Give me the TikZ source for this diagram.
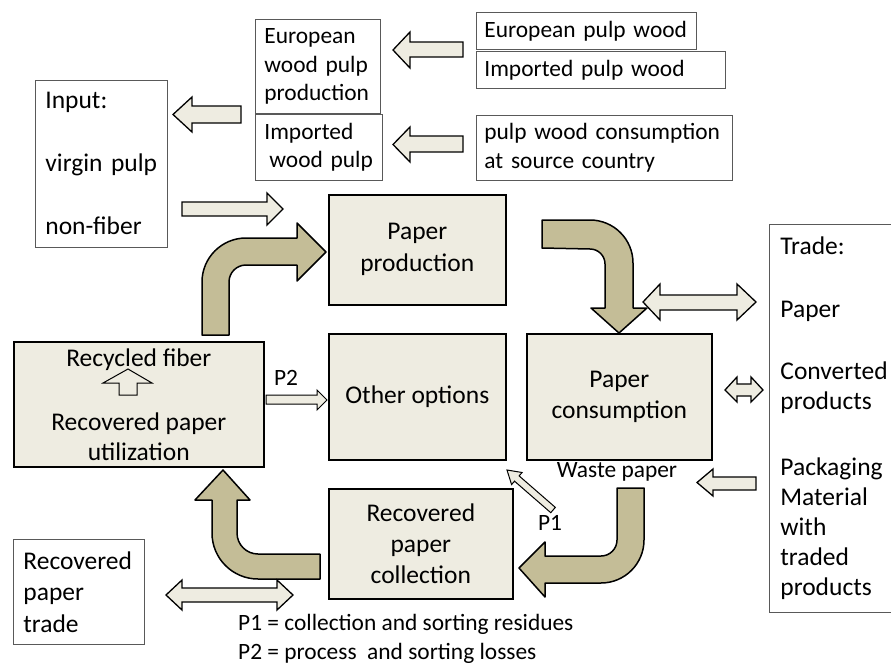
\documentclass[tikz,border=0pt]{standalone}
\usepackage{fontspec}
\setmainfont{Carlito}

\definecolor{paperlight}{HTML}{EEECE1}
\definecolor{paperdark}{HTML}{C4BD97}

\tikzset{
  bigfont/.style={font=\fontsize{25.5}{30}\selectfont},
  smallfont/.style={font=\fontsize{23.4}{28.5}\selectfont},
  whitebox/.style={draw=black!65, line width=0.8pt, fill=white, anchor=north west,
    inner xsep=10pt, inner ysep=0pt, align=left},
  greybox/.style={draw=black, line width=1.6pt, fill=paperlight, anchor=north west,
    inner sep=0pt, align=center, bigfont},
  lightarrow/.style={draw=black, line width=1.3pt, fill=paperlight},
  bentarrow/.style={draw=black, line width=1.5pt, fill=paperdark, line join=round},
}

\begin{document}
\begin{tikzpicture}[x=1pt, y=-1pt]
      \useasboundingbox (0,0) rectangle (891,664);
      \clip (0,0) rectangle (891,664);
      % \draw[step=50,gray,very thin] (0,0) grid (891,664);

      % sources
      \node[whitebox, bigfont, text width=112pt, minimum width=132pt, minimum height=167pt]
        (input) at (35,80) {Input:\\[33pt]virgin pulp\\[33pt]non-fiber};
      \node[whitebox, smallfont, inner xsep=9pt, text width=107pt, minimum width=125pt, minimum height=94pt]
        (eupulp) at (255,19) {European\\wood pulp\\production};
      \node[whitebox, smallfont, inner xsep=9pt, text width=109pt, minimum width=127pt, minimum height=66pt]
        (impulp) at (255,114) {Imported\\\hspace*{5pt}wood pulp};
      \node[whitebox, smallfont, inner xsep=8pt, text width=204pt, minimum width=220pt, minimum height=37pt]
        (euwood) at (476,12) {European pulp wood};
      \node[whitebox, smallfont, inner xsep=8pt, text width=233pt, minimum width=249pt, minimum height=37pt]
        (imwood) at (476,51) {Imported pulp wood};
      \node[whitebox, smallfont, inner xsep=8pt, text width=240pt, minimum width=256pt, minimum height=65pt]
        (srcwood) at (476,115) {pulp wood consumption\\at source country};

      % trade
      \node[whitebox, bigfont, inner xsep=11pt, text width=118pt, minimum width=140pt, minimum height=388pt]
        (trade) at (769,224) {Trade:\\[33pt]Paper\\[32pt]Converted\\products\\[36pt]Packaging\\Material\\with\\traded\\products};
      \node[whitebox, font=\fontsize{25.5}{31.5}\selectfont, text width=111pt, minimum width=131pt, minimum height=105pt]
        (rptrade) at (13,539) {Recovered\\paper\\trade};

      % cycle
      \node[greybox, font=\fontsize{25.5}{32}\selectfont, minimum width=177pt, minimum height=110pt]
        (prod) at (328,194) {Paper\\production};
      \node[greybox, minimum width=177pt, minimum height=126pt] (other) at (328,333) {Other options};
      \node[greybox, font=\fontsize{25.5}{31}\selectfont, minimum width=185pt, minimum height=126pt]
        (cons) at (526,333) {Paper\\consumption};
      \node[greybox, font=\fontsize{25.5}{31}\selectfont, minimum width=184pt, minimum height=110pt]
        (coll) at (328,488) {Recovered\\paper\\collection};
      \node[greybox, minimum width=250pt, minimum height=125pt]
        (util) at (13,341) {Recycled fiber\\[34pt]Recovered paper\\utilization};

      \node[smallfont, inner sep=0pt] (ptwo) at (286,378) {P2};
      \node[smallfont, inner sep=0pt] (pone) at (550,523) {P1};
      \node[smallfont, inner sep=0pt] (waste) at (617,472) {Waste paper};
      \node[font=\fontsize{23.4}{29}\selectfont, inner sep=0pt, anchor=west, align=left]
        (legend) at (238,639) {P1 = collection and sorting residues\\P2 = process\ \ and sorting losses};

      % bent arrows
      \draw[bentarrow] (202,335) -- (202,282) arc[start angle=180, end angle=90, radius=44pt]
        -- (297,238) -- (297,223) -- (326,252) -- (297,281) -- (297,265) -- (246,265)
        arc[start angle=90, end angle=180, radius=17pt] -- (229,335) -- cycle;
      \draw[bentarrow] (542,220) -- (590,220) arc[start angle=90, end angle=0, radius=43pt]
        -- (633,308) -- (647,308) -- (619,333) -- (591,308) -- (605,308) -- (605,264)
        arc[start angle=0, end angle=90, radius=15pt] -- (542,248) -- cycle;
      \draw[bentarrow] (617,488) -- (644,488) -- (644,540) arc[start angle=0, end angle=-90, radius=43pt]
        -- (545,583) -- (545,597) -- (519,568) -- (545,542) -- (545,556) -- (601,556)
        arc[start angle=-90, end angle=0, radius=16pt] -- (617,488) -- cycle;
      \draw[bentarrow] (320,554) -- (258,554) arc[start angle=-90, end angle=-180, radius=21pt]
        -- (237,500) -- (250,500) -- (223,470) -- (195,500) -- (212,500) -- (212,533)
        arc[start angle=180, end angle=270, radius=46pt] -- (320,579) -- cycle;

      % block arrows
      \draw[lightarrow] (241,106) -- (192,106) -- (192,97) -- (173,114.5) -- (192,132) -- (192,123) -- (241,123) -- cycle;
      \draw[lightarrow] (463,42) -- (410,42) -- (410,32) -- (393,50) -- (410,68) -- (410,57) -- (463,57) -- cycle;
      \draw[lightarrow] (463,136) -- (410,136) -- (410,127) -- (393,144.5) -- (410,162) -- (410,152) -- (463,152) -- cycle;
      \draw[lightarrow] (182,202) -- (267,202) -- (267,193) -- (283,209) -- (267,225) -- (267,216) -- (182,216) -- cycle;
      \draw[lightarrow] (660,295) -- (737,295) -- (737,284) -- (756,302) -- (737,320) -- (737,310)
        -- (660,310) -- (660,320) -- (643,302) -- (660,284) -- cycle;
      \draw[lightarrow] (737,384) -- (751,384) -- (751,377) -- (763,390) -- (751,402) -- (751,396)
        -- (737,396) -- (737,402) -- (725,390) -- (737,377) -- cycle;
      \draw[lightarrow] (756,477) -- (713,477) -- (713,469) -- (697,482.5) -- (713,496) -- (713,490) -- (756,490) -- cycle;
      \draw[lightarrow, line width=1pt] (266,395) -- (317,395) -- (317,390) -- (327,400) -- (317,410) -- (317,404) -- (266,404) -- cycle;
      \draw[lightarrow] (182,588) -- (277,588) -- (277,580) -- (293,595) -- (277,610) -- (277,602)
        -- (182,602) -- (182,610) -- (166,595) -- (182,580) -- cycle;
      \draw[lightarrow, line width=1pt] (119,395) -- (119,383) -- (103,383) -- (128,369) -- (152,383) -- (137,383) -- (137,395) -- cycle;
      \begin{scope}[shift={(507,470)}, rotate=-41]
        \draw[lightarrow, line width=1pt] (0,0) -- (13,8) -- (13,3.5) -- (61,3.5) -- (61,-3.5) -- (13,-3.5) -- (13,-8) -- cycle;
      \end{scope}
\end{tikzpicture}
\end{document}
